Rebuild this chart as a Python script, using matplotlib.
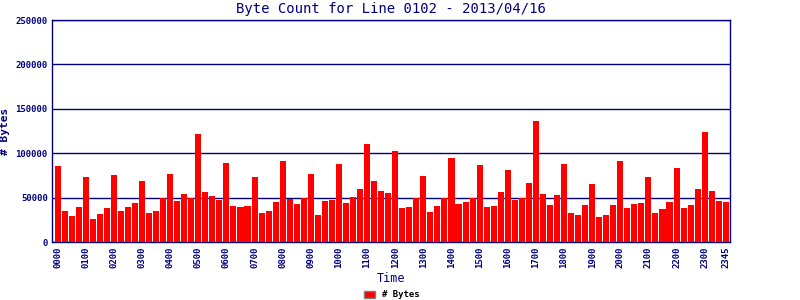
import numpy as np
import matplotlib.pyplot as plt
from matplotlib.patches import Patch

# byte counts per 15 minute interval, 0000 .. 2345
byte_counts = [
    86090, 35340, 29700, 39850, 73680, 26300, 31950, 38720,
    75940, 35340, 39850, 44360, 69170, 33080, 35340, 50000,
    77070, 46620, 54510, 50000, 122180, 56770, 52260, 47740,
    89470, 40980, 39850, 40980, 73680, 33080, 35340, 45490,
    91730, 48870, 43230, 50000, 77070, 30830, 46620, 47740,
    88350, 44360, 51130, 60150, 110900, 69170, 57890, 55640,
    103010, 38720, 39850, 49250, 74810, 34210, 40980, 50000,
    95110, 43230, 45490, 49250, 87220, 39850, 40980, 56770,
    81580, 47740, 50000, 66920, 136840, 54510, 42110, 53380,
    88350, 33080, 30830, 42110, 65790, 28570, 30830, 42110,
    91730, 38720, 43230, 44360, 73680, 33080, 37590, 45490,
    83830, 38720, 42110, 60150, 124440, 57890, 46620, 45490,
]
tick_labels = ['%02d00' % h for h in range(24)] + ['2345']
tick_pos = list(range(0, 96, 4)) + [95]
y_ticks = [0, 50000, 100000, 150000, 200000, 250000]

navy = '#000080'
plt.rcParams['font.family'] = 'DejaVu Sans Mono'

fig = plt.figure(figsize=(8, 3), dpi=100)
ax = fig.add_axes([0.065, 0.193, 0.8475, 0.74])

x = np.arange(len(byte_counts))
ax.bar(x, byte_counts, width=0.86, color='#ff0000', zorder=3)

ax.set_xlim(-0.8, 95.6)
ax.set_ylim(0, 250000)
ax.set_yticks(y_ticks)
ax.set_yticklabels([str(v) for v in y_ticks], fontsize=6.5, color=navy, fontweight='bold')
ax.set_xticks(tick_pos)
ax.set_xticklabels(tick_labels, rotation=90, fontsize=6.5, color=navy, fontweight='bold')
ax.tick_params(length=0, pad=3)
ax.grid(axis='y', color=navy, linewidth=1.0, zorder=1)
for s in ax.spines.values():
    s.set_color(navy)
    s.set_linewidth(1.0)

ax.set_title('Byte Count for Line 0102 - 2013/04/16', fontsize=10, color=navy, pad=5)
ax.set_ylabel('# Bytes', fontsize=8, color=navy, fontweight='bold', labelpad=4)
ax.set_xlabel('Time', fontsize=8.5, color=navy, labelpad=3)

fig.legend(handles=[Patch(facecolor='#ff0000', edgecolor='gray', label='# Bytes')],
           loc='lower center', bbox_to_anchor=(0.49, -0.025), frameon=False,
           handlelength=1.2, handleheight=0.8,
           prop={'weight': 'bold', 'size': 6.5})

fig.savefig('out.png', dpi=100)
